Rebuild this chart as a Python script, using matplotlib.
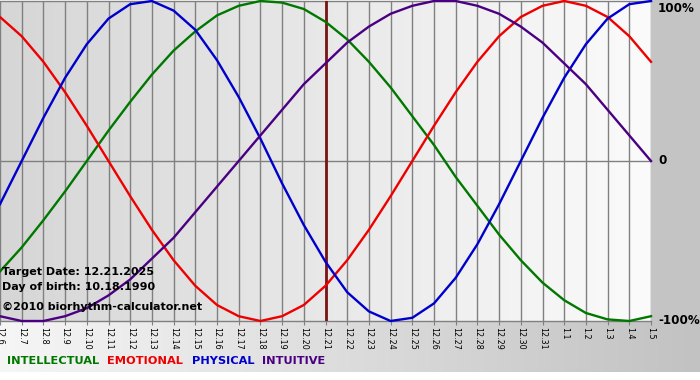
import matplotlib
matplotlib.use("Agg")
import matplotlib.pyplot as plt
import numpy as np
from matplotlib.colors import LinearSegmentedColormap
from matplotlib.patches import Rectangle

W, H = 700, 380

days = ["12.6", "12.7", "12.8", "12.9", "12.10", "12.11", "12.12", "12.13",
        "12.14", "12.15", "12.16", "12.17", "12.18", "12.19", "12.20", "12.21",
        "12.22", "12.23", "12.24", "12.25", "12.26", "12.27", "12.28", "12.29",
        "12.30", "12.31", "1.1", "1.2", "1.3", "1.4", "1.5"]

intellectual = [-0.69, -0.54, -0.37, -0.19, 0.00, 0.19, 0.37, 0.54, 0.69, 0.81,
                0.91, 0.97, 1.00, 0.99, 0.95, 0.87, 0.76, 0.62, 0.46, 0.28,
                0.10, -0.10, -0.28, -0.46, -0.62, -0.76, -0.87, -0.95, -0.99, -1.00,
                -0.97]
emotional = [0.90, 0.78, 0.62, 0.43, 0.22, 0.00, -0.22, -0.43, -0.62, -0.78,
             -0.90, -0.97, -1.00, -0.97, -0.90, -0.78, -0.62, -0.43, -0.22, 0.00,
             0.22, 0.43, 0.62, 0.78, 0.90, 0.97, 1.00, 0.97, 0.90, 0.78,
             0.62]
physical = [-0.27, 0.00, 0.27, 0.52, 0.73, 0.89, 0.98, 1.00, 0.94, 0.82,
            0.63, 0.40, 0.14, -0.14, -0.40, -0.63, -0.82, -0.94, -1.00, -0.98,
            -0.89, -0.73, -0.52, -0.27, 0.00, 0.27, 0.52, 0.73, 0.89, 0.98,
            1.00]
intuitive = [-0.97, -1.00, -1.00, -0.97, -0.92, -0.84, -0.74, -0.61, -0.48, -0.32,
             -0.16, 0.00, 0.16, 0.32, 0.48, 0.61, 0.74, 0.84, 0.92, 0.97,
             1.00, 1.00, 0.97, 0.92, 0.84, 0.74, 0.61, 0.48, 0.32, 0.16,
             0.00]

target_day = "12.21"
info_lines = ["Target Date: 12.21.2025", "Day of birth: 10.18.1990",
              "\u00a92010 biorhythm-calculator.net"]
series_names = ["INTELLECTUAL", "EMOTIONAL", "PHYSICAL", "INTUITIVE"]
series_colors = ["#007800", "#ee0000", "#0000cc", "#4b0082"]
series_values = [intellectual, emotional, physical, intuitive]

fig = plt.figure(figsize=(W / 100, H / 100), dpi=100)
fig.patch.set_facecolor("white")

# backdrop in pixel coordinates
bg = fig.add_axes([0, 0, 1, 1], zorder=-2)
bg.set_xlim(0, W)
bg.set_ylim(H, 0)
bg.axis("off")
strip = LinearSegmentedColormap.from_list("strip", ["#f6f6f6", "#c2c2c2"])
bg.imshow(np.linspace(0, 1, 256)[None, :], cmap=strip, aspect="auto",
          extent=[0, W, 372, 321], interpolation="bilinear")
bg.add_patch(Rectangle((651, 0), W - 651, 321, color="#c4c4c4", lw=0))

ax = fig.add_axes([0, (H - 321) / H, 651 / W, 320 / H])
x = np.arange(len(days))
ax.set_xlim(0, len(days) - 1)
ax.set_ylim(-1, 1)
plot_bg = LinearSegmentedColormap.from_list("plot_bg", ["#d6d6d6", "#fbfbfb"])
ax.imshow(np.linspace(0, 1, 256)[None, :], cmap=plot_bg, aspect="auto",
          extent=[0, len(days) - 1, -1, 1], interpolation="bilinear", zorder=0)
for s in ax.spines.values():
    s.set_visible(False)

ax.set_xticks(x)
ax.set_xticklabels(days, rotation=270, fontsize=5.8, va="top", ha="center")
ax.tick_params(axis="x", length=3, pad=1, color="#808080")
ax.set_yticks([])
ax.grid(axis="x", color="#808080", lw=1, zorder=1)
for yv in (-1, 0, 1):
    ax.axhline(yv, color="#808080", lw=1, zorder=1, clip_on=False)

ax.axvline(days.index(target_day), color="#7a1414", lw=2, zorder=2)

for vals, col in zip(series_values, series_colors):
    ax.plot(x, vals, color=col, lw=1.7, zorder=3, clip_on=False)

# right-hand percent labels
for yv, lab, va, dy in [(1, "100%", "top", -1), (0, "0", "center", 0),
                        (-1, "-100%", "center", 0)]:
    ax.annotate(lab, xy=(1, yv), xycoords=("axes fraction", "data"),
                xytext=(5, dy), textcoords="offset points", va=va, ha="left",
                fontsize=8.6, fontweight="bold", annotation_clip=False)

for ypx, line in zip([272, 287, 307], info_lines):
    fig.text(2 / W, 1 - ypx / H, line, fontsize=8, fontweight="bold",
             va="center", ha="left", zorder=10)

for xpx, name, col in zip([7, 107, 192, 262], series_names, series_colors):
    fig.text(xpx / W, 1 - 361 / H, name, color=col, fontsize=8.2,
             fontweight="bold", va="center", ha="left")

fig.savefig("out.png", dpi=100)
